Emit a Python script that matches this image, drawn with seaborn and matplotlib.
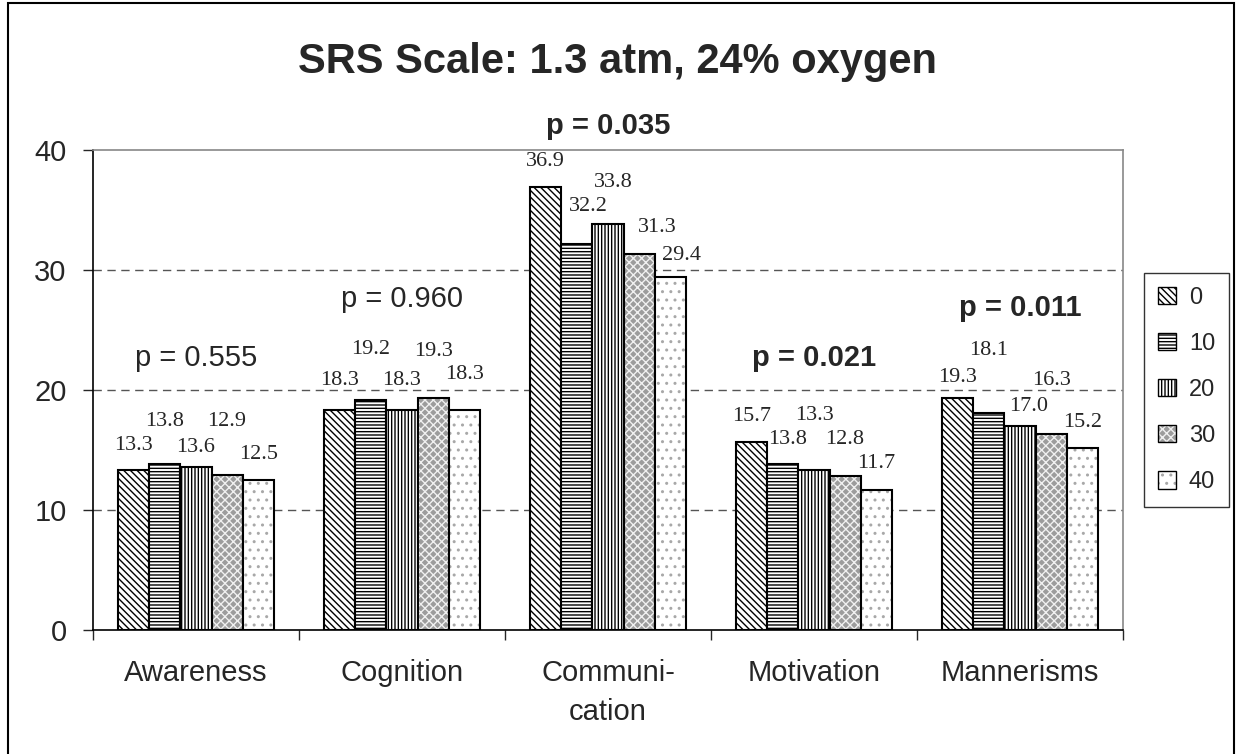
import numpy as np
import pandas as pd
import matplotlib
matplotlib.use("Agg")
import matplotlib.pyplot as plt
import matplotlib.colors as mcolors
import seaborn as sns
from matplotlib.patches import Rectangle

categories = ["Awareness", "Cognition", "Communi-\ncation", "Motivation", "Mannerisms"]
doses = ["0", "10", "20", "30", "40"]
vals_0 = [13.3, 18.3, 36.9, 15.7, 19.3]
vals_10 = [13.8, 19.2, 32.2, 13.8, 18.1]
vals_20 = [13.6, 18.3, 33.8, 13.3, 17.0]
vals_30 = [12.9, 19.3, 31.3, 12.8, 16.3]
vals_40 = [12.5, 18.3, 29.4, 11.7, 15.2]
p_texts = ["p = 0.555", "p = 0.960", "p = 0.035", "p = 0.021", "p = 0.011"]
p_bold = [False, False, True, True, True]

# value labels were placed by hand in the original: centre height (data units)
label_y_0 = [15.4, 20.8, 39.0, 17.8, 21.0]
label_y_10 = [17.4, 23.4, 35.3, 15.9, 23.3]
label_y_20 = [15.2, 20.8, 37.3, 17.9, 18.6]
label_y_30 = [17.4, 23.25, 33.5, 15.9, 20.8]
label_y_40 = [14.6, 21.3, 31.25, 13.9, 17.3]
# sideways nudges of some labels, in pixels
label_dx_0 = [0, 0, 0, 0, 0]
label_dx_10 = [0, 0, 11, 5, 0]
label_dx_20 = [0, 0, 5, 0, 9]
label_dx_30 = [0, 0, 18, 0, 0]
label_dx_40 = [0, 0, 11, 0, 0]
p_y = [22.7, 27.6, 42.0, 22.7, 26.8]

series = [vals_0, vals_10, vals_20, vals_30, vals_40]
label_y = [label_y_0, label_y_10, label_y_20, label_y_30, label_y_40]
label_dx = [label_dx_0, label_dx_10, label_dx_20, label_dx_30, label_dx_40]
rows = []
for d, vals in zip(doses, series):
    for c, v in zip(categories, vals):
        rows.append({"category": c, "dose": d, "value": v})
df = pd.DataFrame(rows)

sns.set_style("white")
plt.rcParams["font.family"] = ["Liberation Sans", "DejaVu Sans"]
plt.rcParams["hatch.linewidth"] = 1.0

W, H = 1236, 754
fig = plt.figure(figsize=(W / 100, H / 100), dpi=100)
ax = fig.add_axes([93 / W, 1 - 630 / H, 1030 / W, 480 / H])

sns.barplot(data=df, x="category", y="value", hue="dose", order=categories,
            hue_order=doses, palette=["white"] * 5, edgecolor="black",
            linewidth=1.5, width=0.755, ax=ax, legend=True)

styles = [
    dict(hatch="\\\\\\\\\\", face="white", hc="black"),
    dict(hatch="-----", face="white", hc="black"),
    dict(hatch="|||||", face="white", hc="black"),
    dict(hatch="xxxx", face="#9c9c9c", hc="#f0f0f0"),
    dict(hatch="..", face="white", hc="#a8a8a8"),
]

def style_patch(p, st):
    p.set_facecolor(st["face"])
    p.set_edgecolor("black")
    p.set_hatch(st["hatch"])
    # hatch takes the edge colour unless told otherwise
    if hasattr(p, "set_hatchcolor"):
        p.set_hatchcolor(st["hc"])
    else:
        p._hatch_color = mcolors.to_rgba(st["hc"])

for cont, st in zip(ax.containers, styles):
    for p in cont.patches:
        style_patch(p, st)

px_per_unit = 1030 / 5
for i, cont in enumerate(ax.containers):
    for p, v, ly, dx in zip(cont.patches, series[i], label_y[i], label_dx[i]):
        ax.text(p.get_x() + p.get_width() / 2 + dx / px_per_unit, ly, f"{v:.1f}",
                ha="center", va="center", fontsize=16, family="Liberation Serif")

for k, (t, b, y) in enumerate(zip(p_texts, p_bold, p_y)):
    ax.text(k, y, t, ha="center", va="center", fontsize=21,
            fontweight="bold" if b else "normal", clip_on=False)

ax.set_ylim(0, 40)
ax.set_xlim(-0.5, 4.5)
ax.set_yticks([0, 10, 20, 30, 40])
ax.tick_params(axis="y", labelsize=21, length=7, width=1, direction="out", left=True, pad=12)
ax.tick_params(axis="x", labelsize=21, length=0, pad=21)
for lab in ax.get_xticklabels():
    lab.set_linespacing(1.5)
ax.set_xticks(np.arange(-0.5, 5, 1), minor=True)
ax.tick_params(axis="x", which="minor", length=7, width=1, direction="out", bottom=True)
ax.set_xlabel("")
ax.set_ylabel("")
for yv in [10, 20, 30]:
    ax.axhline(yv, color="#555555", linestyle=(0, (6, 4)), linewidth=1, zorder=0)
ax.spines["left"].set_color("black")
ax.spines["bottom"].set_color("black")
ax.spines["top"].set_color("#888888")
ax.spines["right"].set_color("#888888")
for s in ax.spines.values():
    s.set_linewidth(1.2)

handles, labels = ax.get_legend_handles_labels()
for h, st in zip(handles, styles):
    style_patch(h, st)
    h.set_linewidth(1)
leg = ax.legend(handles, labels, loc="center left", bbox_to_anchor=((1144 - 93) / 1030, 0.5),
                fontsize=17, frameon=True, fancybox=False, edgecolor="black",
                handlelength=0.75, handleheight=0.75, labelspacing=1.02,
                borderpad=0.6, handletextpad=0.55, borderaxespad=0)
leg.get_frame().set_linewidth(1)

fig.suptitle("SRS Scale: 1.3 atm, 24% oxygen", x=0.5, y=1 - 62 / H, va="center",
             fontsize=30, fontweight="bold")
fig.patches.append(Rectangle((8 / W, -0.02), 1226 / W, 1.02 - 3 / H,
                             transform=fig.transFigure, fill=False,
                             edgecolor="black", linewidth=1.5))

fig.savefig("out.png", dpi=100)
